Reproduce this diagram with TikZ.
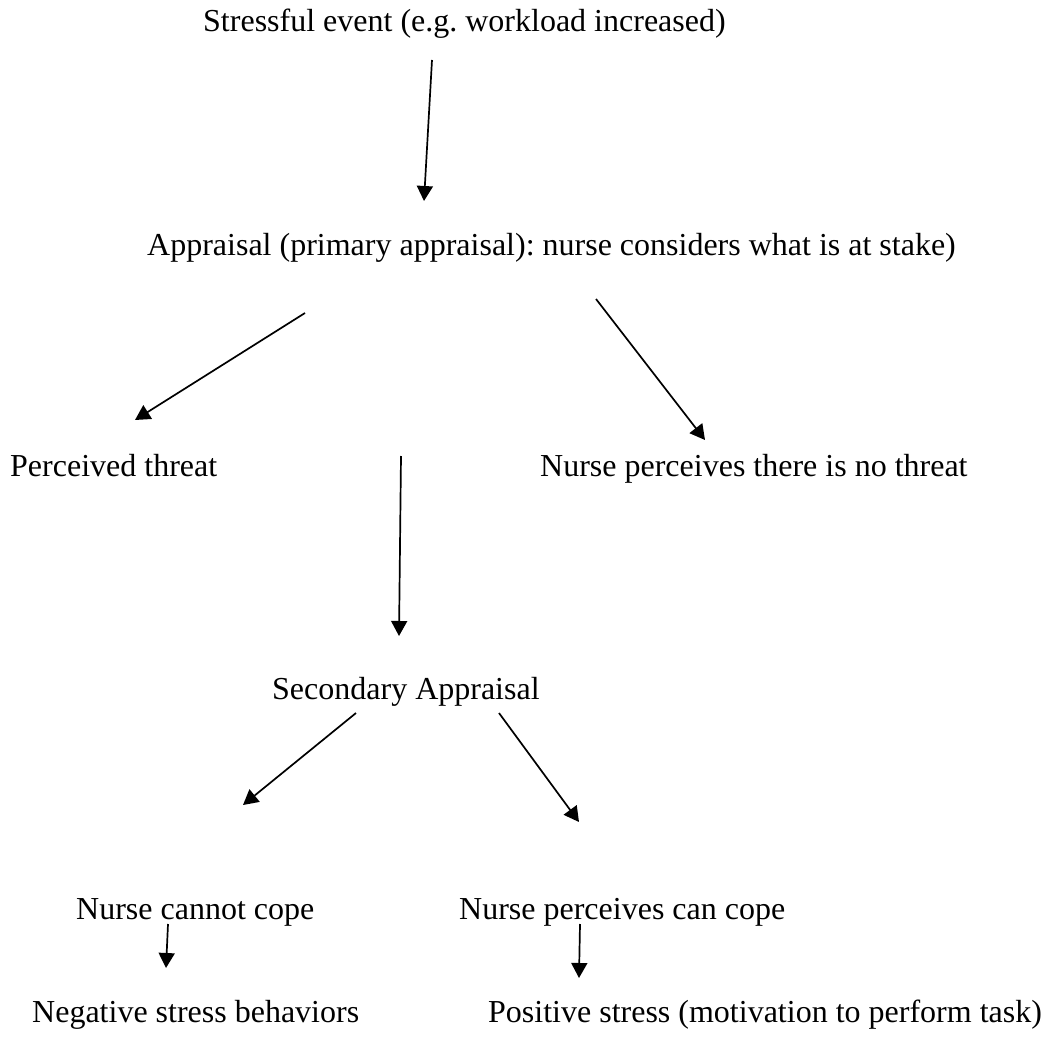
\documentclass[tikz,border=0pt]{standalone}
\usepackage{fontspec}
\setmainfont{Liberation Serif}
\usetikzlibrary{arrows.meta}
\frenchspacing
\begin{document}
\begin{tikzpicture}[x=1pt,y=-1pt,
  lbl/.style={anchor=base west,inner sep=0pt,font=\fontsize{32}{38}\selectfont},
  arr/.style={-{Triangle[length=15pt,width=16pt]},line width=1.7pt}]
\useasboundingbox (0,0) rectangle (1063,1038);
\node[lbl] (stress) at (203,32) {Stressful event (e.g.\ workload increased)};
\node[lbl] (appr) at (147,255) {Appraisal (primary appraisal): nurse considers what is at stake)};
\node[lbl] (threat) at (10,476) {Perceived threat};
\node[lbl] (nothreat) at (540,476) {Nurse perceives there is no threat};
\node[lbl] (second) at (272,699) {Secondary Appraisal};
\node[lbl] (cannot) at (76,919) {Nurse cannot cope};
\node[lbl] (can) at (459,919) {Nurse perceives can cope};
\node[lbl] (neg) at (32,1022) {Negative stress behaviors};
\node[lbl] (pos) at (488,1022) {Positive stress (motivation to perform task)};
\coordinate (a1s) at (432,60);
\coordinate (a1e) at (424,201);
\coordinate (a2s) at (305,313);
\coordinate (a2e) at (135,420);
\coordinate (a3s) at (596,299);
\coordinate (a3e) at (705,440);
\coordinate (a4s) at (401,456);
\coordinate (a4e) at (399,636);
\coordinate (a5s) at (356,713);
\coordinate (a5e) at (243,805);
\coordinate (a6s) at (499,713);
\coordinate (a6e) at (579,822);
\coordinate (a7s) at (168,924);
\coordinate (a7e) at (166,968);
\coordinate (a8s) at (580,924);
\coordinate (a8e) at (579,978);
\draw[arr] (a1s) -- (a1e);
\draw[arr] (a2s) -- (a2e);
\draw[arr] (a3s) -- (a3e);
\draw[arr] (a4s) -- (a4e);
\draw[arr] (a5s) -- (a5e);
\draw[arr] (a6s) -- (a6e);
\draw[arr] (a7s) -- (a7e);
\draw[arr] (a8s) -- (a8e);
\end{tikzpicture}
\end{document}
